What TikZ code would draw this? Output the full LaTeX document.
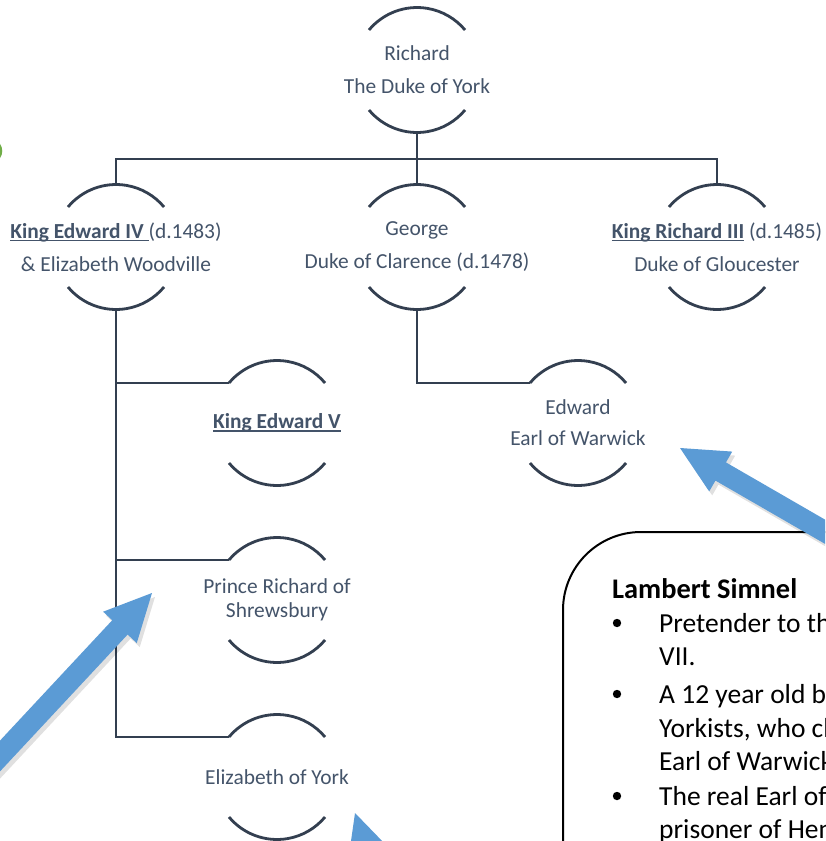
\documentclass[tikz,border=0pt]{standalone}
\usepackage{fontspec}
\setmainfont{Carlito}
\usetikzlibrary{calc}
\definecolor{txt}{HTML}{44546A}
\definecolor{lin}{HTML}{333F50}
\definecolor{arr}{HTML}{5B9BD5}
\definecolor{grn}{HTML}{70AD47}
\newcommand\ulx[1]{\setbox0=\hbox{#1}\rlap{\rule[-3pt]{\wd0}{1.4pt}}\box0\relax}
\newcommand\brk[1]{%
  \draw[arcline] ($(#1)+(-48,-40)$) arc[start angle=219.8, end angle=320.2, radius=62.5];
  \draw[arcline] ($(#1)+(-48,40)$) arc[start angle=140.2, end angle=39.8, radius=62.5];}
\newcommand\callout[2]{%
  \begin{scope}[shift={($(#1)+(3,4)$)}, rotate=#2]
    \fill[black, opacity=0.12] (0,0) -- (47,23) -- (47,10.5) -- (420,10.5) -- (420,-10.5) -- (47,-10.5) -- (47,-23) -- cycle;
  \end{scope}
  \begin{scope}[shift={(#1)}, rotate=#2]
    \fill[arr] (0,0) -- (47,23) -- (47,10.5) -- (420,10.5) -- (420,-10.5) -- (47,-10.5) -- (47,-23) -- cycle;
  \end{scope}}
\begin{document}
\begin{tikzpicture}[x=1pt, y=-1pt,
  arcline/.style={draw=lin, line width=2.8pt},
  conn/.style={draw=lin, line width=2.8pt},
  person/.style={text=txt, align=center, inner sep=0pt, font=\fontsize{21.4}{33}\selectfont},
  boxtxt/.style={anchor=base west, inner sep=0pt, text=black, font=\fontsize{27.5}{33}\selectfont}]
\useasboundingbox (0,0) rectangle (825,841);
\clip (0,0) rectangle (825,841);
\fill[white] (0,0) rectangle (825,841);
% green artifact at left edge
\draw[grn, line width=2.5pt] (-6,151) ellipse [x radius=7, y radius=9];

% people
\node[person] (rich) at (417,70) {Richard\\The Duke of York};
\node[person] (edw4) at (116,247) {\ulx{\textbf{King Edward IV }}(d.1483)\\\& Elizabeth Woodville};
\node[person] (george) at (417,247) {George\\Duke of Clarence (d.1478)};
\node[person] (rich3) at (717,247) {\ulx{\textbf{King Richard III}} (d.1485)\\Duke of Gloucester};
\node[person] (edw5) at (277,423) {\ulx{\textbf{King Edward V}}};
\node[person, font=\fontsize{21.4}{24}\selectfont] (prich) at (277,600) {Prince Richard of\\Shrewsbury};
\node[person] (eliz) at (277,777) {Elizabeth of York};
\node[person, font=\fontsize{21.4}{31}\selectfont] (warw) at (578,423) {Edward\\Earl of Warwick};

\foreach \n in {rich,edw4,george,rich3,edw5,prich,eliz,warw}{\brk{\n}}

% connectors
\coordinate (bar) at (417,159);
\draw[conn] ($(rich)+(0,62.5)$) -- ($(george)+(0,-62.5)$);
\draw[conn] ($(edw4)+(0,-62.5)$) |- (bar) -| ($(rich3)+(0,-62.5)$);
\draw[conn] ($(edw4)+(0,62.5)$) |- ($(edw5)+(-48,-40)$);
\draw[conn] ($(edw4)+(0,62.5)$) |- ($(prich)+(-48,-40)$);
\draw[conn] ($(edw4)+(0,62.5)$) |- ($(eliz)+(-48,-40)$);
\draw[conn] ($(george)+(0,62.5)$) |- ($(warw)+(-48,-40)$);

% Lambert Simnel box
\draw[black, line width=2pt, fill=white, rounded corners=78pt] (563,532) rectangle (1000,1000);
\node[boxtxt, font=\fontsize{28.4}{33}\selectfont\bfseries] (ls) at (612,598) {Lambert Simnel};
\fill (617,623) circle[radius=4.2];
\node[boxtxt] (l1) at (659,632) {Pretender to the throne of Henry};
\node[boxtxt] (l2) at (659,665) {VII.};
\fill (617,694) circle[radius=4.2];
\node[boxtxt] (l3) at (659,703) {A 12 year old boy used by the};
\node[boxtxt] (l4) at (659,737) {Yorkists, who claimed he was the};
\node[boxtxt] (l5) at (659,770) {Earl of Warwick.};
\fill (617,796) circle[radius=4.2];
\node[boxtxt] (l6) at (659,805) {The real Earl of Warwick was a};
\node[boxtxt] (l7) at (659,838) {prisoner of Henry in the Tower.};

% callout arrows
\coordinate (t1) at (680,448);
\coordinate (t2) at (152,593);
\coordinate (t3) at (355,813);
\callout{t1}{-30}
\callout{t2}{-133}
\callout{t3}{-72}
\end{tikzpicture}
\end{document}
